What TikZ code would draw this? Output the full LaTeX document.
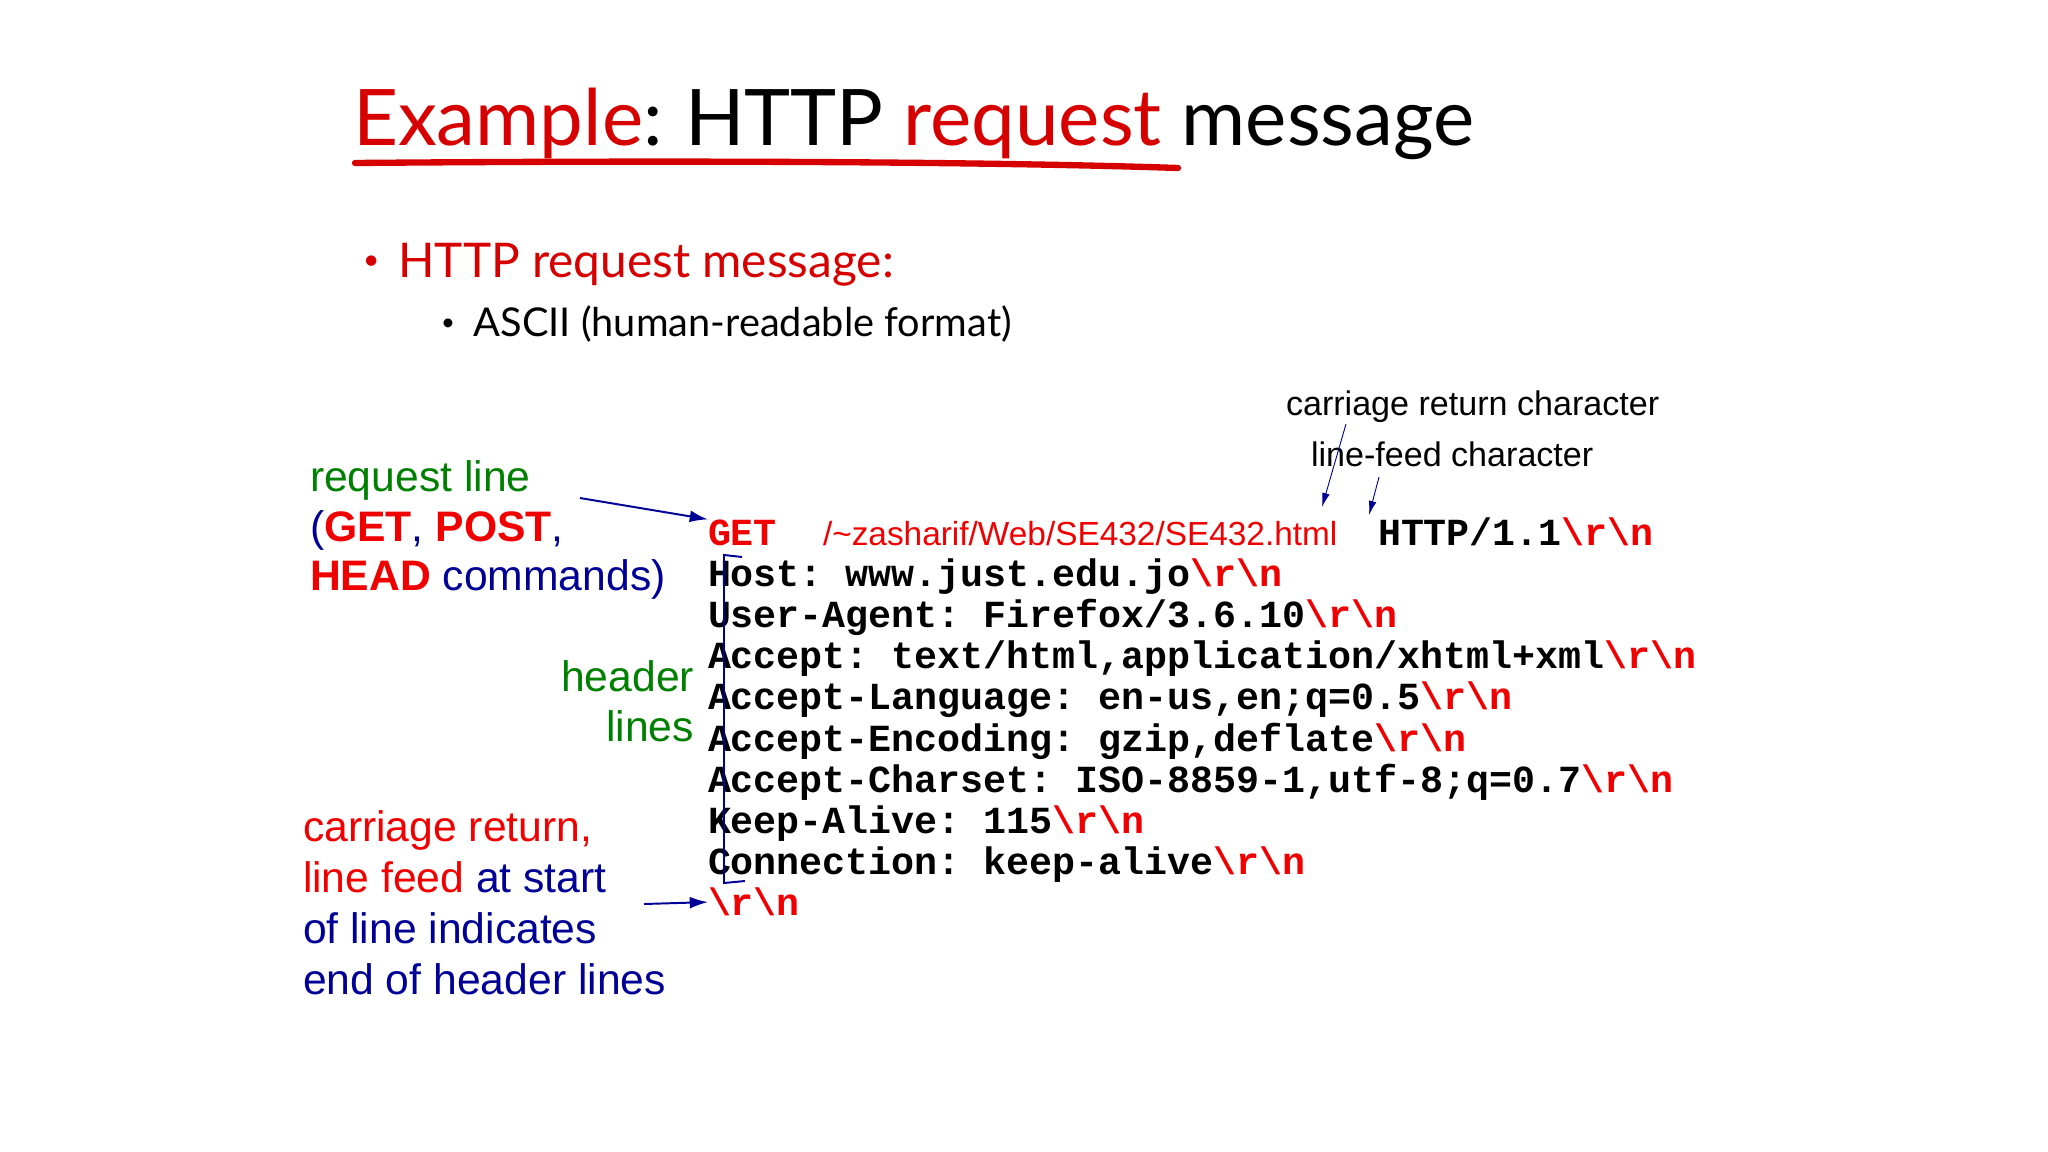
\documentclass[tikz,border=0pt]{standalone}
\usepackage{fontspec}
\setmainfont{Lato}
\newfontfamily\arial{Liberation Sans}
\newfontfamily\codefont{Liberation Mono}
\definecolor{tred}{RGB}{215,0,0}
\definecolor{cred}{RGB}{240,0,0}
\definecolor{cgreen}{RGB}{0,128,0}
\definecolor{cblue}{RGB}{0,0,150}
\usetikzlibrary{arrows.meta}
\tikzset{
  lbl/.style={anchor=base west,inner sep=0pt,outer sep=0pt},
  code/.style={lbl,font=\codefont\bfseries\frenchspacing\fontsize{54.5}{60}\selectfont},
  note/.style={lbl,font=\arial\fontsize{60.7}{64}\selectfont},
  small/.style={lbl,font=\arial\fontsize{48.5}{52}\selectfont},
  ptr/.style={draw=cblue,line width=2.8pt,-{Latex[length=26pt,width=17pt]}},
  thinptr/.style={draw=cblue,line width=1.3pt,-{Latex[length=20pt,width=11pt]}}
}
\newcommand{\rn}{\textcolor{cred}{\textbackslash r\textbackslash n}}
\begin{document}
\begin{tikzpicture}[x=0.05cm,y=-0.05cm]
\useasboundingbox[fill=white] (0,0) rectangle (2048,1152);
% title
\node[lbl,font=\fontsize{111}{120}\selectfont] (title) at (353,146)
  {\textcolor{tred}{Example}:\hspace{-6pt} HTTP \textcolor{tred}{request} message};
\draw[tred,line width=9pt,line cap=round] (355,163) .. controls (700,160) and (1000,162) .. (1178,168);
% bullets
\node[lbl,font=\fontsize{68}{72}\selectfont,text=tred] (b1) at (363,277) {\raisebox{10pt}{\fontsize{40}{40}\selectfont\textbullet}\hspace{27pt}HTTP request message:};
\node[lbl,font=\fontsize{56.5}{60}\selectfont] (b2) at (441,336) {\raisebox{8pt}{\fontsize{34}{34}\selectfont\textbullet}\hspace{27pt}ASCII (human-readable format)};
% top labels
\node[small] (crc) at (1286,415) {carriage return character};
\node[small] (lfc) at (1311,466) {line-feed character};
\coordinate (crs) at (1346,424);
\coordinate (cre) at (1322,507);
\coordinate (lfs) at (1379,477);
\coordinate (lfe) at (1369,515);
\draw[thinptr] (crs) -- (cre);
\draw[thinptr] (lfs) -- (lfe);
% code
\node[code,text=cred] (get) at (708,545) {GET};
\node[lbl,font=\arial\fontsize{47.5}{50}\selectfont,text=cred] (url) at (823,545) {/\textasciitilde zasharif/Web/SE432/SE432.html};
\node[code] (http) at (1378,545) {HTTP/1.1\rn};
\node[code] (l1) at (708,586.2) {Host: www.just.edu.jo\rn};
\node[code] (l2) at (708,627.4) {User-Agent: Firefox/3.6.10\rn};
\node[code] (l3) at (708,668.6) {Accept: text/html,application/xhtml+xml\rn};
\node[code] (l4) at (708,709.8) {Accept-Language: en-us,en;q=0.5\rn};
\node[code] (l5) at (708,751) {Accept-Encoding: gzip,deflate\rn};
\node[code] (l6) at (708,792.2) {Accept-Charset: ISO-8859-1,utf-8;q=0.7\rn};
\node[code] (l7) at (708,833.4) {Keep-Alive: 115\rn};
\node[code] (l8) at (708,874.6) {Connection: keep-alive\rn};
\node[code] (l9) at (708,915.8) {\rn};
% bracket
\draw[cblue,line width=2.8pt] (742,557) -- (724,555) -- (724,883) -- (745,881);
% left labels
\node[note,text=cgreen] (rl1) at (310,491) {request line};
\node[note,text=cblue] (rl2) at (310,541) {(\textcolor{cred}{\bfseries GET}, \textcolor{cred}{\bfseries POST},};
\node[note,text=cblue] (rl3) at (310,590) {\textcolor{cred}{\bfseries HEAD} commands)};
\node[note,text=cgreen,anchor=base east] (h1) at (694,691) {header};
\node[note,text=cgreen,anchor=base east] (h2) at (694,741) {lines};
\node[note,text=cred] (c1) at (303,841) {carriage return,};
\node[note,text=cred] (c2) at (303,892) {line feed \textcolor{cblue}{at start}};
\node[note,text=cblue] (c3) at (303,943) {of line indicates};
\node[note,text=cblue] (c4) at (303,994) {end of header lines};
\coordinate (rls) at (580,498);
\coordinate (crls) at (644,904);
\draw[ptr] (rls) -- (get.north west);
\draw[ptr] (crls) -- (l9.west);
\end{tikzpicture}
\end{document}
